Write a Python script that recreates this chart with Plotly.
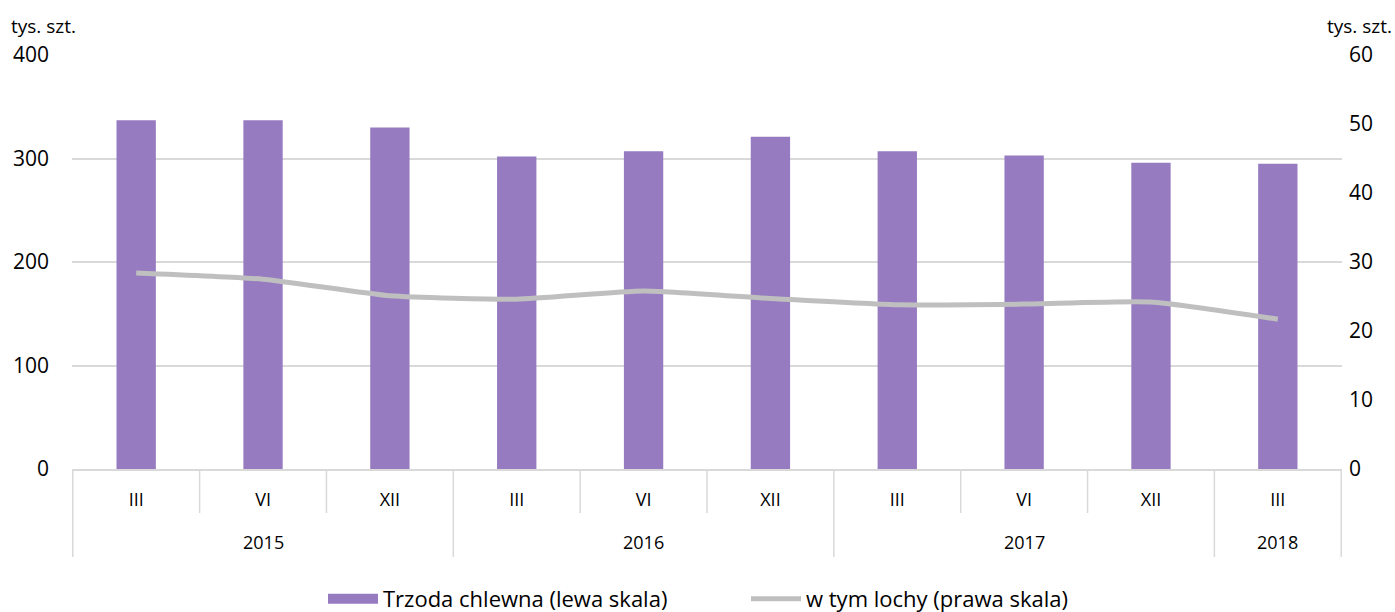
import plotly.graph_objects as go

years = ["2015", "2015", "2015", "2016", "2016", "2016", "2017", "2017", "2017", "2018"]
months = ["III", "VI", "XII", "III", "VI", "XII", "III", "VI", "XII", "III"]
trzoda = [337, 337, 330, 302, 307, 321, 307, 303, 296, 295]
lochy = [28.4, 27.5, 25.1, 24.6, 25.8, 24.7, 23.8, 23.9, 24.2, 21.7]

FONT = "Open Sans"
GRID = "#D9D9D9"
BAR = "#967BC0"
LINE = "#BFBFBF"
keys = [f"{y}-{m}" for y, m in zip(years, months)]

W, H = 1395, 612
ML, MR, MT, MB = 72, 53, 55, 143
PH = H - MT - MB

def py(px_below):
    return -px_below / PH

fig = go.Figure()
fig.add_trace(go.Bar(x=keys, y=trzoda, name="Trzoda chlewna (lewa skala)",
                     marker=dict(color=BAR, line=dict(width=0)), yaxis="y",
                     legendgroup="bar", showlegend=False))
# legend entry with a wide rectangular key for the bars
fig.add_trace(go.Scatter(x=[None], y=[None], name="Trzoda chlewna (lewa skala)",
                         mode="lines", line=dict(color=BAR, width=13),
                         legendgroup="bar", showlegend=True, hoverinfo="skip"))
fig.add_trace(go.Scatter(x=keys, y=lochy, name="w tym lochy (prawa skala)", mode="lines",
                         line=dict(color=LINE, width=5, shape="spline", smoothing=0.5),
                         yaxis="y2"))

shapes = []
annotations = []
n = len(keys)
for i in range(n + 1):
    b = i - 0.5
    is_group = i == 0 or i == n or years[i] != years[i - 1]
    shapes.append(dict(type="line", xref="x", yref="paper", x0=b, x1=b, y0=0,
                       y1=py(88 if is_group else 44), line=dict(color=GRID, width=1.5)))
groups = []
for i, y in enumerate(years):
    if not groups or groups[-1][0] != y:
        groups.append([y, i, i])
    else:
        groups[-1][2] = i
for y, a, b in groups:
    annotations.append(dict(text=y, xref="x", yref="paper", x=(a + b) / 2, y=py(73),
                            xanchor="center", yanchor="middle", showarrow=False,
                            font=dict(size=18)))

annotations += [
    dict(text="tys. szt.", xref="paper", yref="paper", x=0, xshift=-63, y=1, yshift=14,
         xanchor="left", yanchor="bottom", showarrow=False, font=dict(size=19)),
    dict(text="tys. szt.", xref="paper", yref="paper", x=1, xshift=52, y=1, yshift=14,
         xanchor="right", yanchor="bottom", showarrow=False, font=dict(size=19)),
]

fig.update_layout(
    width=W, height=H,
    margin=dict(l=ML, r=MR, t=MT, b=MB, autoexpand=False),
    plot_bgcolor="white", paper_bgcolor="white",
    font=dict(family=FONT, size=18, color="#000000"),
    bargap=0.69,
    showlegend=True,
    legend=dict(orientation="h", x=(323 - ML) / (W - ML - MR), xanchor="left",
                y=py(109), yanchor="top",
                font=dict(size=22), itemwidth=50, traceorder="normal",
                entrywidth=358),
    xaxis=dict(type="category", categoryarray=keys, tickvals=keys, ticktext=months,
               showline=True, linecolor=GRID, linewidth=1.5, ticks="",
               tickfont=dict(size=18), ticklabelstandoff=14, showgrid=False,
               automargin=False),
    yaxis=dict(range=[0, 400], dtick=100, showgrid=True, gridcolor=GRID, gridwidth=1.5,
               zeroline=False, tickfont=dict(size=21), ticks="", ticklabelstandoff=22,
               automargin=False),
    yaxis2=dict(range=[0, 60], dtick=10, overlaying="y", side="right", showgrid=False,
                zeroline=False, tickfont=dict(size=21), ticklabelstandoff=6,
                automargin=False),
    shapes=shapes,
    annotations=annotations,
)

fig.write_html("out.html", post_script="document.body.style.margin='0';",
               config=dict(displayModeBar=False))
